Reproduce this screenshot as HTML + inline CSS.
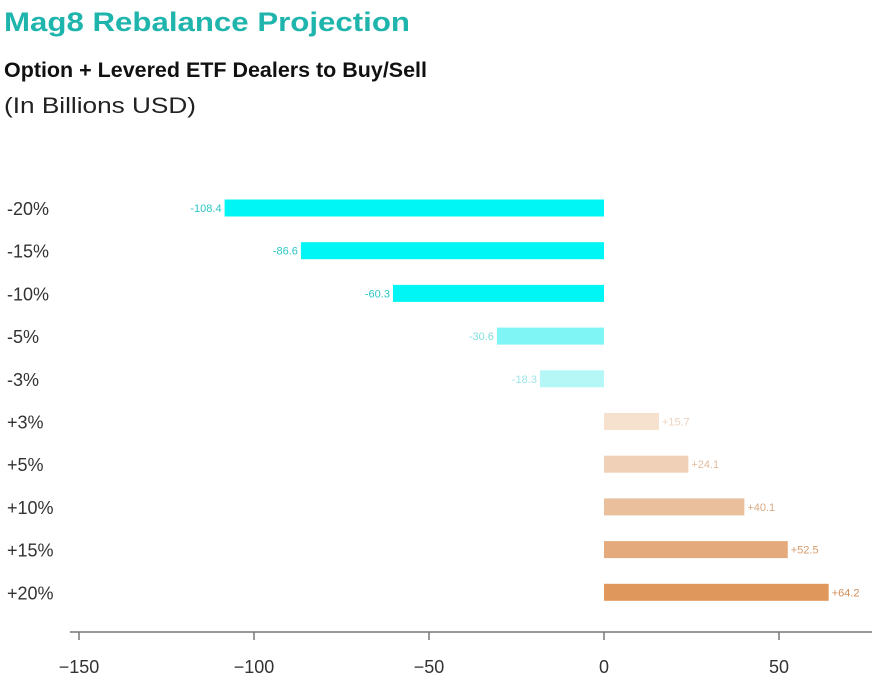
<!DOCTYPE html>
<html><head><meta charset="utf-8"><style>
body{margin:0;background:#fff;font-family:"Liberation Sans",sans-serif}
</style></head><body>
<svg width="880" height="677" id="c">
<text x="4" y="31" font-size="27" font-weight="bold" fill="#1fb5ad" textLength="406" lengthAdjust="spacingAndGlyphs">Mag8 Rebalance Projection</text>
<text x="4" y="77" font-size="21" font-weight="bold" fill="#111" textLength="423" lengthAdjust="spacingAndGlyphs">Option + Levered ETF Dealers to Buy/Sell</text>
<text x="4" y="113" font-size="22" fill="#222" textLength="192" lengthAdjust="spacingAndGlyphs">(In Billions USD)</text>
<g id="bars"></g>
<line x1="70" y1="632" x2="872" y2="632" stroke="#777" stroke-width="1.5"/>
<g id="ticks"></g>
</svg>
<script>
const categories=["-20%","-15%","-10%","-5%","-3%","+3%","+5%","+10%","+15%","+20%"];
const values=[-108.4,-86.6,-60.3,-30.6,-18.3,15.7,24.1,40.1,52.5,64.2];
const valueLabels=["-108.4","-86.6","-60.3","-30.6","-18.3","+15.7","+24.1","+40.1","+52.5","+64.2"];
const colors=["#00f5f5","#00f5f5","#00f5f5","#80f5f5","#b5f7f7","#f6e0ce","#f0d0b6","#eabf9c","#e4aa7c","#e0975c"];
const labelColors=["#2cc6c6","#2cc6c6","#2cc6c6","#7fdede","#9ee6e6","#ecd2bf","#e3bd9f","#d9a982","#d69a6a","#d08d56"];
const xTicks=[-150,-100,-50,0,50];
const NS="http://www.w3.org/2000/svg";
const x=v=>604+v*3.5;
const y=i=>208+i*42.7;
const bars=document.getElementById('bars'),ticks=document.getElementById('ticks');
function mk(t,a,p){const e=document.createElementNS(NS,t);for(const k in a)e.setAttribute(k,a[k]);p.appendChild(e);return e;}
categories.forEach((c,i)=>{
 const v=values[i];
 const r=mk('rect',{x:Math.min(x(0),x(v)),y:y(i)-8.5,width:Math.abs(x(v)-x(0)),height:17,fill:colors[i]},bars);
 
 
 const l=mk('text',{x:7,y:y(i)+7,'font-size':18,fill:'#333'},bars);l.textContent=c;
 
 
 const vl=mk('text',{x:v<0?x(v)-3:x(v)+3,y:y(i)+4,'font-size':11,fill:labelColors[i],'text-anchor':v<0?'end':'start'},bars);vl.textContent=valueLabels[i];
 
 
});
xTicks.forEach(t=>{
 const tk=mk('line',{x1:x(t),x2:x(t),y1:632,y2:640,stroke:'#777','stroke-width':1.5},ticks);
 
 
 const tl=mk('text',{x:x(t),y:673,'font-size':18,fill:'#333','text-anchor':'middle'},ticks);tl.textContent=t<0?'\u2212'+(-t):t;
 
 
});
</script>
</body></html>
